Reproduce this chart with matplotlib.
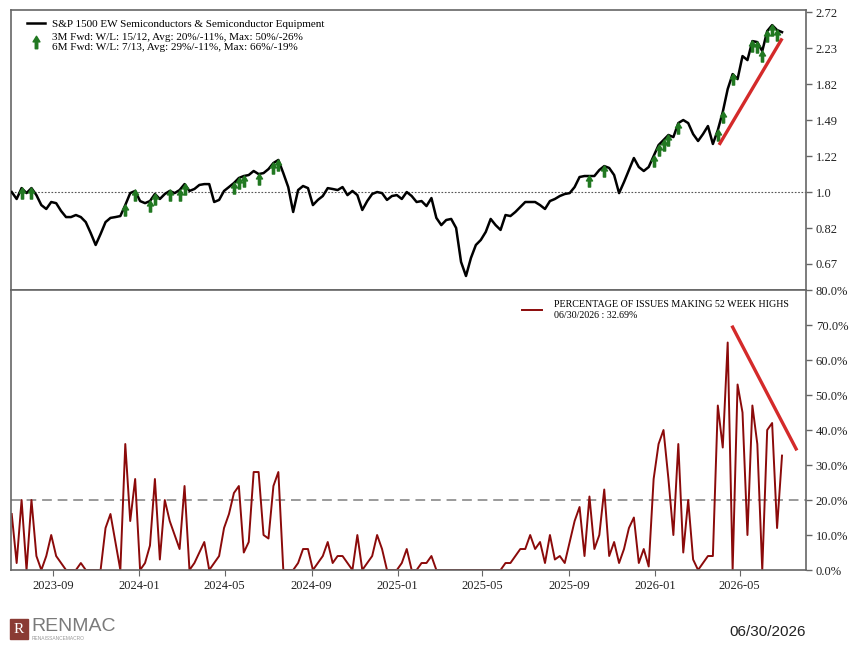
import numpy as np
import pandas as pd
import matplotlib
matplotlib.use('Agg')
import matplotlib.pyplot as plt
import matplotlib.dates as mdates
from matplotlib.path import Path
from matplotlib.lines import Line2D
from matplotlib.patches import Rectangle
from matplotlib.ticker import NullLocator

plt.rcParams['font.family'] = ['Liberation Serif', 'DejaVu Serif']

# weekly observations
dates = pd.date_range('2023-07-04', periods=157, freq='7D')

# S&P 1500 EW Semis (relative, log scale)
price = [
    1.000, 0.962, 1.022, 0.994, 1.022, 0.983, 0.930, 0.910, 0.946, 0.940,
    0.900, 0.870, 0.870, 0.880, 0.870, 0.846, 0.796, 0.745, 0.792, 0.846,
    0.866, 0.870, 0.875, 0.930, 0.994, 1.006, 0.951, 0.940, 0.951, 0.989,
    0.962, 0.989, 1.006, 0.994, 1.011, 1.045, 1.006, 1.017, 1.040, 1.045,
    1.045, 0.946, 0.957, 1.006, 1.028, 1.051, 1.081, 1.093, 1.099, 1.124,
    1.105, 1.111, 1.136, 1.175, 1.195, 1.111, 1.028, 0.895, 1.011, 1.034,
    1.022, 0.930, 0.957, 0.978, 1.022, 1.017, 1.011, 1.028, 0.983, 1.006,
    0.983, 0.905, 0.951, 0.989, 1.000, 0.994, 0.957, 0.978, 0.983, 0.962,
    1.000, 0.978, 0.946, 0.951, 0.925, 0.967, 0.866, 0.832, 0.856, 0.861,
    0.819, 0.678, 0.627, 0.693, 0.745, 0.766, 0.801, 0.861, 0.832, 0.810,
    0.880, 0.875, 0.895, 0.920, 0.946, 0.946, 0.946, 0.930, 0.910, 0.951,
    0.962, 0.978, 0.989, 0.994, 1.028, 1.087, 1.093, 1.093, 1.093, 1.130,
    1.155, 1.143, 1.099, 0.994, 1.057, 1.130, 1.208, 1.149, 1.124, 1.149,
    1.221, 1.298, 1.335, 1.373, 1.357, 1.467, 1.492, 1.467, 1.380, 1.328,
    1.380, 1.443, 1.306, 1.411, 1.560, 1.772, 1.926, 1.873, 2.129, 2.082,
    2.314, 2.301, 2.189, 2.446, 2.529, 2.460, 2.432,
]

# percentage of issues making 52 week highs
pct_highs = [
    16, 2, 20, 0, 20, 4, 0, 4, 10, 4,
    2, 0, 0, 0, 2, 0, 0, 0, 0, 12,
    16, 8, 0, 36, 14, 26, 0, 2, 7, 26,
    3, 20, 14, 10, 6, 24, 0, 2, 5, 8,
    0, 2, 4, 12, 16, 22, 24, 5, 8, 28,
    28, 10, 9, 24, 28, 0, 0, 0, 2, 6,
    6, 0, 2, 4, 8, 2, 4, 4, 2, 0,
    10, 0, 2, 4, 10, 6, 0, 0, 0, 2,
    6, 0, 0, 2, 2, 4, 0, 0, 0, 0,
    0, 0, 0, 0, 0, 0, 0, 0, 0, 0,
    2, 2, 4, 6, 6, 10, 6, 8, 2, 10,
    3, 4, 2, 8, 14, 18, 4, 21, 6, 10,
    23, 4, 8, 2, 6, 12, 15, 2, 6, 1,
    26, 36, 40, 26, 10, 36, 5, 20, 3, 0,
    2, 4, 4, 47, 35, 65, 0, 53, 45, 10,
    47, 36, 0, 40, 42, 12, 32.69,
]

# weeks with a 3M/6M forward signal
arrow_weeks = [2, 4, 23, 25, 28, 29, 32, 34, 35, 45, 46, 47, 50, 53, 54,
               117, 120, 130, 131, 132, 133, 135, 143, 144, 146, 150, 151,
               152, 153, 154, 155]

top_ticks = np.exp(np.arange(-2, 6) * 0.2)
top_labels = ['0.67', '0.82', '1.0', '1.22', '1.49', '1.82', '2.23', '2.72']
pct_ticks = np.arange(0, 90, 10)

trend_top_dates = pd.to_datetime(['2026-04-03', '2026-06-29'])
trend_top_vals = [1.31, 2.33]
trend_bot_dates = pd.to_datetime(['2026-04-21', '2026-07-20'])
trend_bot_vals = [69.4, 34.6]

green = '#217821'
dark_red = '#8b0a0a'
trend_red = '#d42a2a'
spine_c = '#666666'

arrow = Path([(-0.2, -1), (0.2, -1), (0.2, 0.1), (0.55, 0.1), (0, 1),
              (-0.55, 0.1), (-0.2, 0.1), (-0.2, -1)],
             [Path.MOVETO] + [Path.LINETO] * 6 + [Path.CLOSEPOLY])

fig = plt.figure(figsize=(8.6, 6.51), dpi=100)
ax1 = fig.add_axes([0.0128, 0.5545, 0.9244, 0.4301])
ax2 = fig.add_axes([0.0128, 0.1244, 0.9244, 0.4301], sharex=ax1)

# top panel
ax1.set_yscale('log')
ax1.axhline(1.0, color='#555555', lw=0.8, ls=(0, (1.5, 1.5)))
ax1.plot(dates, price, color='black', lw=1.8, zorder=3)
aw = np.array(arrow_weeks)
ax1.plot(dates[aw], np.array(price)[aw] * 0.975, ls='None', marker=arrow,
         ms=8, color=green, mec=green, zorder=4)
ax1.plot(trend_top_dates, trend_top_vals, color=trend_red, lw=2.4, zorder=5)
ax1.set_ylim(0.58, 2.75)
ax1.yaxis.set_minor_locator(NullLocator())
ax1.set_yticks(top_ticks)
ax1.set_yticklabels(top_labels)
ax1.tick_params(axis='x', which='both', bottom=False, labelbottom=False)

h1 = [Line2D([], [], color='black', lw=1.8),
      Line2D([], [], ls='None', marker=arrow, ms=9, color=green)]
l1 = ['S&P 1500 EW Semiconductors & Semiconductor Equipment',
      '3M Fwd: W/L: 15/12, Avg: 20%/-11%, Max: 50%/-26%\n'
      '6M Fwd: W/L: 7/13, Avg: 29%/-11%, Max: 66%/-19%']
ax1.legend(h1, l1, loc='upper left', bbox_to_anchor=(0.012, 0.99),
           frameon=False, fontsize=8, handlelength=1.6, labelspacing=0.3,
           borderaxespad=0.2, handletextpad=0.6)

# bottom panel
ax2.axhline(20, color='#9a9a9a', lw=1.4, ls=(0, (5, 3)))
ax2.plot(dates, pct_highs, color=dark_red, lw=1.4,
         label='PERCENTAGE OF ISSUES MAKING 52 WEEK HIGHS\n06/30/2026 : 32.69%')
ax2.plot(trend_bot_dates, trend_bot_vals, color=trend_red, lw=2.4)
ax2.set_ylim(0, 80)
ax2.set_yticks(pct_ticks)
ax2.set_yticklabels([f'{v:.1f}%' for v in pct_ticks])
ax2.legend(loc='upper right', bbox_to_anchor=(0.99, 0.995), frameon=False,
           fontsize=7.2, handlelength=2.0, handletextpad=1.2)

ax2.set_xlim(pd.Timestamp('2023-07-03'), pd.Timestamp('2026-08-03'))
ax2.xaxis.set_major_locator(mdates.MonthLocator(bymonth=[1, 5, 9]))
ax2.xaxis.set_major_formatter(mdates.DateFormatter('%Y-%m'))

for ax in (ax1, ax2):
    ax.yaxis.tick_right()
    ax.tick_params(axis='y', direction='out', length=4, width=1,
                   color=spine_c, labelsize=9, labelcolor='#222222', pad=3)
    ax.tick_params(axis='x', direction='out', length=4, color=spine_c,
                   labelsize=9, labelcolor='#222222')
    for s in ax.spines.values():
        s.set_color(spine_c)
        s.set_linewidth(1.2)

# footer
fig.add_artist(Rectangle((0.0116, 0.018), 0.021, 0.031, color='#8a3b34',
                         transform=fig.transFigure))
fig.text(0.022, 0.0335, 'R', color='white', fontsize=11, ha='center',
         va='center', family=['Liberation Serif', 'DejaVu Serif'])
fig.text(0.037, 0.037, 'RENMAC', color='#7a7a7a', fontsize=14, ha='left',
         va='center', family=['Liberation Sans Narrow', 'Liberation Sans', 'DejaVu Sans'])
fig.text(0.037, 0.019, 'RENAISSANCEMACRO', color='#999999', fontsize=3.5,
         ha='left', va='center', family=['Liberation Sans', 'DejaVu Sans'])
fig.text(0.937, 0.029, '06/30/2026', color='#222222', fontsize=11, ha='right',
         va='center', family=['Liberation Sans Narrow', 'Liberation Sans', 'DejaVu Sans'])

fig.savefig('out.png', dpi=100)
